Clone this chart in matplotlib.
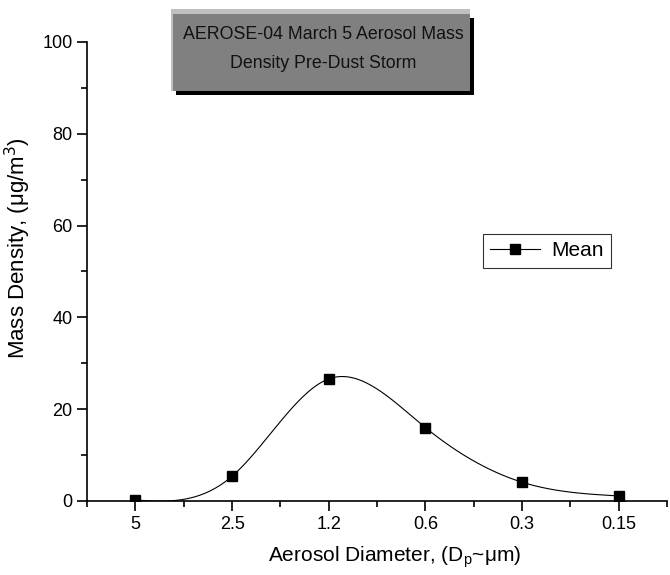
import numpy as np
import matplotlib.pyplot as plt
from matplotlib.patches import Rectangle
from matplotlib.ticker import MultipleLocator, FixedLocator

plt.rcParams['font.family'] = ['Liberation Sans', 'DejaVu Sans']

# data
diameters = ['5', '2.5', '1.2', '0.6', '0.3', '0.15']
mean_density = [0.2, 5.4, 26.6, 16.0, 4.1, 1.1]


def natural_spline(y, n=300):
    # natural cubic spline through equally spaced points (for the smooth line only)
    y = np.asarray(y, dtype=float)
    k = len(y)
    A = np.zeros((k, k))
    b = np.zeros(k)
    A[0, 0] = A[-1, -1] = 1
    for i in range(1, k - 1):
        A[i, i - 1:i + 2] = [1, 4, 1]
        b[i] = 6 * (y[i + 1] - 2 * y[i] + y[i - 1])
    m = np.linalg.solve(A, b)
    xs = np.linspace(0, k - 1, n)
    idx = np.clip(np.floor(xs).astype(int), 0, k - 2)
    t = xs - idx
    ys = ((1 - t) * y[idx] + t * y[idx + 1]
          + ((1 - t) ** 3 - (1 - t)) * m[idx] / 6
          + (t ** 3 - t) * m[idx + 1] / 6)
    return xs, ys


x = np.arange(len(diameters))
xs, ys = natural_spline(mean_density)

fig = plt.figure(figsize=(6.7, 5.75), dpi=100)
ax = fig.add_axes([0.13, 0.1287, 0.8655, 0.7983])

ax.plot(xs, ys, color='black', lw=0.8)
ax.plot(x, mean_density, ls='none', marker='s', ms=6.5, color='black')
# legend proxy
ax.plot([], [], color='black', lw=0.8, marker='s', ms=6.5, label='Mean')

ax.set_xlim(-0.5, 5.5)
ax.set_ylim(0, 100)
ax.set_xticks(x)
ax.set_xticklabels(diameters)
ax.xaxis.set_minor_locator(FixedLocator(list(np.append(-0.5, x + 0.5))))
ax.yaxis.set_major_locator(MultipleLocator(20))
ax.yaxis.set_minor_locator(MultipleLocator(10))
for s in ['top', 'right']:
    ax.spines[s].set_visible(False)
ax.spines['left'].set_linewidth(1.2)
ax.spines['bottom'].set_linewidth(1.2)
ax.tick_params(which='major', length=7, width=1.2, labelsize=13)
ax.tick_params(which='minor', length=4, width=1.2)

ax.set_ylabel('Mass Density, ($\\mathregular{\\mu}$g/m$^3$)', fontsize=16)
ax.set_xlabel('Aerosol Diameter, (D$_\\mathregular{p}$~$\\mathregular{\\mu}$m)', fontsize=15)
ax.yaxis.set_label_coords(-0.094, 0.551)
ax.xaxis.set_label_coords(0.531, -0.094)

leg = ax.legend(loc='center', bbox_to_anchor=(0.793, 0.545), fontsize=15,
                frameon=True, fancybox=False, edgecolor='black',
                handlelength=2.4, borderpad=0.35, handletextpad=0.5)
leg.get_frame().set_linewidth(0.8)

# title box with shadow
fig.patches.append(Rectangle((0.262, 0.834), 0.446, 0.134, transform=fig.transFigure,
                             facecolor='black', edgecolor='none', zorder=1))
fig.patches.append(Rectangle((0.255, 0.842), 0.446, 0.142, transform=fig.transFigure,
                             facecolor='#c0c0c0', edgecolor='none', zorder=2))
fig.patches.append(Rectangle((0.258, 0.842), 0.443, 0.134, transform=fig.transFigure,
                             facecolor='#808080', edgecolor='none', zorder=3))
fig.text(0.482, 0.915, 'AEROSE-04 March 5 Aerosol Mass\nDensity Pre-Dust Storm',
         ha='center', va='center', fontsize=12.8, color='#111111', zorder=4,
         linespacing=1.9)

fig.savefig('out.png', dpi=100)
